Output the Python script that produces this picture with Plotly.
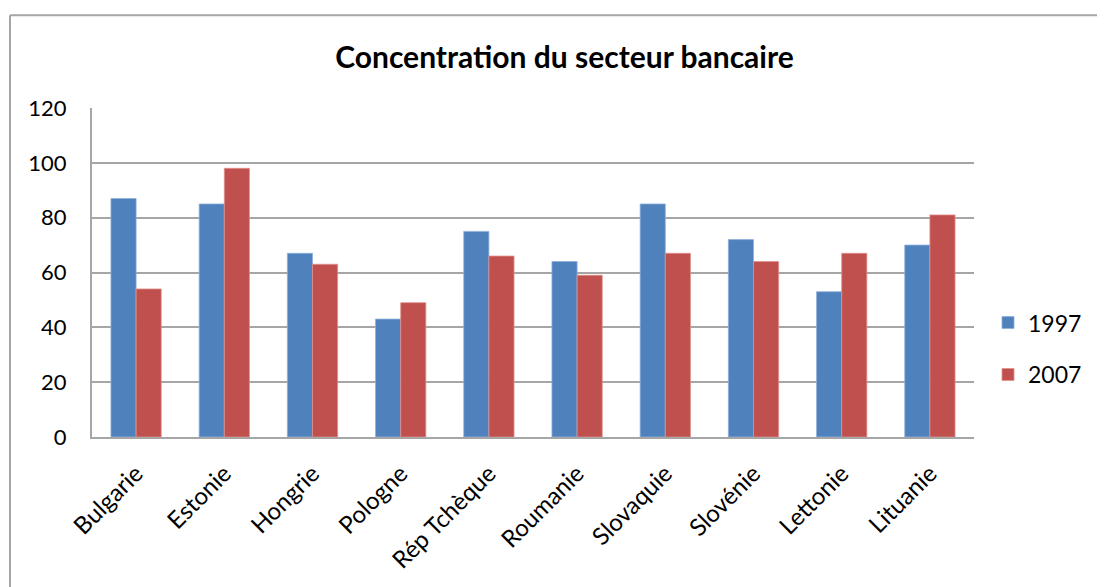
import plotly.graph_objects as go

categories = ["Bulgarie", "Estonie", "Hongrie", "Pologne", "Rép Tchèque",
              "Roumanie", "Slovaquie", "Slovénie", "Lettonie", "Lituanie"]
values_1997 = [87, 85, 67, 43, 75, 64, 85, 72, 53, 70]
values_2007 = [54, 98, 63, 49, 66, 59, 67, 64, 67, 81]
series_names = ["1997", "2007"]
y_ticks = [0, 20, 40, 60, 80, 100, 120]

FONT = "Lato"
OFF = 8  # default page body margin
W, H = 1105 - OFF, 587 - OFF
PL, PR, PT, PB = 92 - OFF, 974 - OFF, 108 - OFF, 437.5 - OFF
PW, PH = PR - PL, PB - PT

fig = go.Figure()
fig.add_trace(go.Bar(x=categories, y=values_1997, name=series_names[0],
                     legendgroup="a",
                     marker=dict(color="#4F81BD", line=dict(color="#8DB0DC", width=0.8))))
fig.add_trace(go.Bar(x=categories, y=values_2007, name=series_names[1],
                     legendgroup="b",
                     marker=dict(color="#C0504D", line=dict(color="#E0908E", width=0.8))))

fig.update_layout(
    width=W, height=H,
    margin=dict(l=PL, r=W - PR, t=PT, b=H - PB, autoexpand=False),
    paper_bgcolor="white", plot_bgcolor="white",
    barmode="group", bargap=0.43, bargroupgap=0,
    title=dict(text="<b>Concentration du secteur bancaire</b>",
               font=dict(family=FONT, size=30, color="black"),
               x=(564.5 - OFF) / W, xanchor="center", y=1 - (57 - OFF) / H, yanchor="middle"),
    font=dict(family=FONT, size=22, color="black"),
    legend=dict(x=(988 - OFF - PL) / PW, xanchor="left",
                y=(PB - (349 - OFF)) / PH, yanchor="middle",
                font=dict(family=FONT, size=23, color="black"),
                tracegroupgap=19, itemwidth=30, bgcolor="rgba(0,0,0,0)"),
    showlegend=True,
)
fig.update_xaxes(showline=True, linecolor="#A6A6A6", linewidth=2,
                 tickangle=-45, ticks="", showgrid=False,
                 ticklabelstandoff=11, tickfont=dict(family=FONT, size=24))
fig.update_yaxes(range=[0, 120], tickvals=y_ticks, showline=True, linecolor="#A6A6A6",
                 linewidth=2, showgrid=True, gridcolor="#A6A6A6", gridwidth=1.5,
                 zeroline=False, ticks="", ticklabelstandoff=19,
                 tickfont=dict(family=FONT, size=22))

fx = (10 - OFF - PL) / PW
fy = (PB - (15 - OFF)) / PH
fig.add_shape(type="line", xref="paper", yref="paper",
              x0=fx, x1=fx, y0=fy, y1=-1.0,
              line=dict(color="#A6A6A6", width=2))
fig.add_shape(type="line", xref="paper", yref="paper",
              x0=fx, x1=1.3, y0=fy, y1=fy,
              line=dict(color="#A6A6A6", width=2))

fig.write_html("out.html")
